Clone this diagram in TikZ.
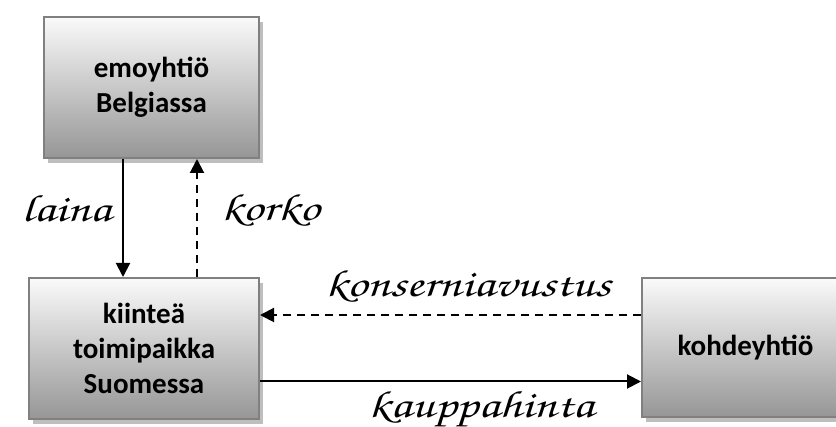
\documentclass[tikz,border=0pt]{standalone}
\usepackage[T1]{fontenc}
\usepackage{fontspec}
\setmainfont{Carlito}
\usepackage{graphicx}
\usepackage{tikz}
\usetikzlibrary{arrows.meta,shadows,positioning}
\definecolor{boxedge}{RGB}{128,128,128}
\definecolor{boxtop}{RGB}{250,250,250}
\definecolor{boxbottom}{RGB}{150,150,150}
\definecolor{boxshadow}{RGB}{190,190,190}
\newcommand{\handfont}{\fontencoding{T1}\fontfamily{pzc}\fontseries{mb}\fontshape{it}\fontsize{38}{42}\selectfont}
\newcommand{\wide}[1]{\scalebox{1.32}[1]{#1}}
\tikzstyle{firm} = [rectangle, draw=boxedge, line width=2pt, top color=boxtop, bottom color=boxbottom, align=center, font=\fontsize{29}{35}\selectfont\bfseries, drop shadow={shadow xshift=4pt, shadow yshift=-5pt, fill=boxshadow, opacity=1}]
\tikzstyle{flow} = [line width=2pt, -{Triangle[length=14pt,width=14pt]}]
\tikzstyle{money} = [flow, dash pattern=on 8pt off 6pt]
\tikzstyle{hand} = [font=\handfont, inner sep=2pt]

\begin{document}
\begin{tikzpicture}[x=1pt,y=-1pt]
\useasboundingbox (0,0) rectangle (836,427);
% Yhtiot
\node (emo) [firm, minimum width=215pt, minimum height=141pt] at (151.5,87.5) {emoyhtiö\\Belgiassa};
\node (kiintea) [firm, minimum width=230pt, minimum height=141pt] at (144,348.5) {kiinteä\\toimipaikka\\Suomessa};
\node (kohde) [firm, minimum width=207pt, minimum height=139pt] at (745.5,347.5) {kohdeyhtiö};

% Laina ja korko
\draw[flow] ([xshift=-28.5pt]emo.south) -- node[hand, left=9pt, yshift=10pt] {\wide{laina}} ([xshift=-28.5pt]emo.south |- kiintea.north);
\draw[money] ([xshift=53pt]kiintea.north) -- node[hand, right=21pt, yshift=8pt] {\wide{korko}} ([xshift=53pt]kiintea.north |- emo.south);

% Konserniavustus ja kauppahinta
\draw[money] ([yshift=32.5pt]kohde.west) -- node[hand, above=9pt, xshift=17.5pt] {\wide{konserniavustus}} ([yshift=32.5pt]kohde.west -| kiintea.east);
\draw[flow] ([yshift=-33pt]kiintea.east) -- node[hand, below=6pt, xshift=30.5pt] {\wide{kauppahinta}} ([yshift=-33pt]kiintea.east -| kohde.west);
\end{tikzpicture}
\end{document}
